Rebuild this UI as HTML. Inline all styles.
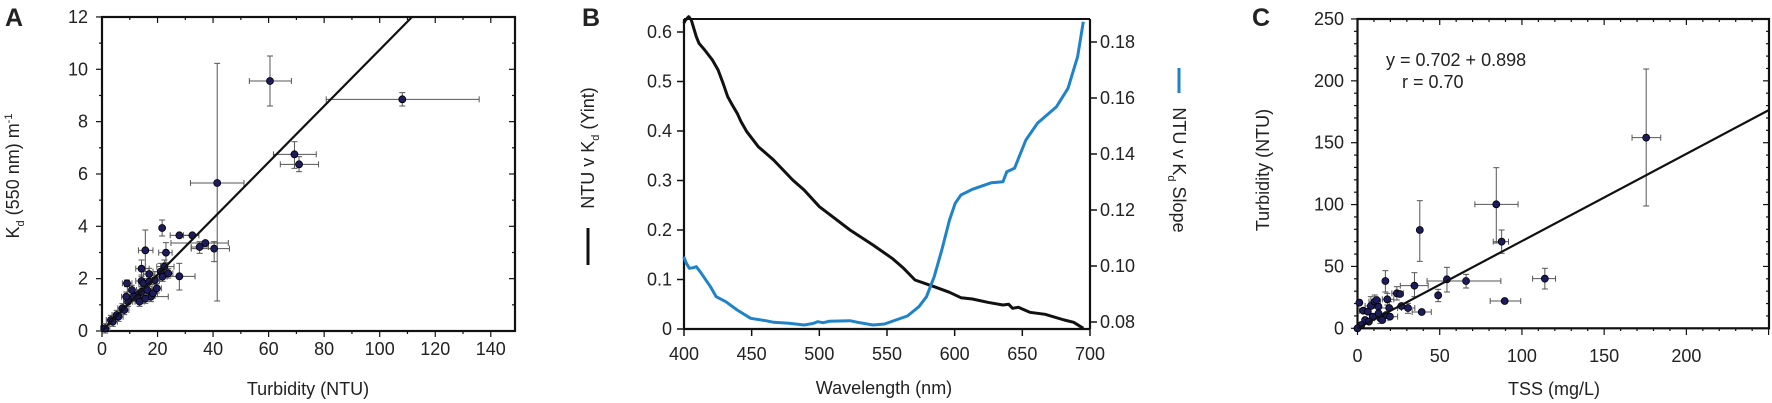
<!DOCTYPE html>
<html><head><meta charset="utf-8"><style>
html,body{margin:0;padding:0;background:#fff;width:1772px;height:403px;overflow:hidden}
svg{display:block}
text{font-family:"Liberation Sans",Arial,sans-serif;fill:#222}
</style></head><body>
<svg id="s" width="1772" height="403" viewBox="0 0 1772 403" xmlns="http://www.w3.org/2000/svg">
<text x="5" y="26" font-size="25" font-weight="bold">A</text>
<text x="582" y="26" font-size="25" font-weight="bold">B</text>
<text x="1252" y="26" font-size="25" font-weight="bold">C</text>
<text x="308" y="395" font-size="18" text-anchor="middle">Turbidity (NTU)</text>
<text transform="translate(19,176) rotate(-90)" font-size="18" text-anchor="middle">K<tspan font-size="11" dy="5">d</tspan><tspan dy="-5"> (550 nm) m</tspan><tspan font-size="11" dy="-7">-1</tspan></text>
<text x="884" y="394" font-size="18" text-anchor="middle">Wavelength (nm)</text>
<text transform="translate(594,148) rotate(-90)" font-size="18" text-anchor="middle">NTU v K<tspan font-size="11" dy="5">d</tspan><tspan dy="-5"> (Yint)</tspan></text>
<line x1="588" y1="228" x2="588" y2="265" stroke="#111" stroke-width="3"/>
<text transform="translate(1173,170) rotate(90)" font-size="18" text-anchor="middle">NTU v K<tspan font-size="11" dy="5">d</tspan><tspan dy="-5"> Slope</tspan></text>
<line x1="1179" y1="68" x2="1179" y2="93" stroke="#1f83c9" stroke-width="3"/>
<text x="1554" y="395" font-size="18" text-anchor="middle">TSS (mg/L)</text>
<text transform="translate(1269,170) rotate(-90)" font-size="18" text-anchor="middle">Turbidity (NTU)</text>
<text x="1386" y="66" font-size="18">y = 0.702 + 0.898</text>
<text x="1402" y="88" font-size="18">r  = 0.70</text>
<g id="g"></g>
</svg>
<script>
var NS="http://www.w3.org/2000/svg",G=document.getElementById('g');
function E(t,a){var e=document.createElementNS(NS,t);for(var k in a)e.setAttribute(k,a[k]);G.appendChild(e);return e;}
function L(x1,y1,x2,y2,w,c){E('line',{x1:x1,y1:y1,x2:x2,y2:y2,stroke:c||'#111','stroke-width':w||1});}
function T(x,y,s,anc){var e=E('text',{x:x,y:y,'font-size':18,'text-anchor':anc||'middle'});e.textContent=s;}
var K=2.615;
function Zx(o,zx){return o+zx/K;} function Zy(zy){return zy/3;}
// ---------- Panel A ----------
var ax=function(v){return 102+2.777*v}, ay=function(v){return 331-26.17*v};
for(var v=0;v<=150;v+=10){var x=ax(v);var maj=v%20==0;
 if(v<=140){L(x,331,x,maj?337:334,1.2);L(x,17,x,maj?23:20,1.2);}
 if(maj&&v<=140)T(x,355,String(v));}
for(var v=0;v<=12;v+=1){var y=ay(v);var maj=v%2==0;
 L(maj?96:99,y,102,y,1.2);L(515,y,maj?509:512,y,1.2);
 if(maj)T(88,y+6,String(v),'end');}
E('rect',{x:102,y:17,width:413,height:314,fill:'none',stroke:'#111','stroke-width':2.2});
function scat(o,pts,r){pts.forEach(function(p){var X=Zx(o,p[0]),Y=Zy(p[1]);
 if(p[2]!=null){var a=Zx(o,p[2]),b=Zx(o,p[3]);L(a,Y,b,Y,1,'#555');L(a,Y-3,a,Y+3,1,'#555');L(b,Y-3,b,Y+3,1,'#555');}
 if(p[4]!=null){var a=Zy(p[4]),b=Zy(p[5]);L(X,a,X,b,1,'#555');L(X-3,a,X+3,a,1,'#555');L(X-3,b,X+3,b,1,'#555');}});
 pts.forEach(function(p){E('circle',{cx:Zx(o,p[0]),cy:Zy(p[1]),r:r||3.4,fill:'#1c1c5c',stroke:'#000','stroke-width':0.8});});}
var A=[[706,243,652,762,168,318],[1052,298,853,1253,278,318],[568,549,498,638,190,903],[770,463,715,827,425,505],[782,493,733,833,470,515],
[424,684,null,null,660,708],[469,706,445,505,null,null],[503,706,480,520,null,null],[380,751,362,400,690,815],[434,758,415,450,728,788],
[522,741,500,545,725,760],[537,729,447,597,null,null],[560,746,500,600,725,785],[370,806,355,390,780,830],[390,822,375,405,805,840],
[469,829,430,510,790,870],[332,850,320,345,840,860],[370,843,355,385,825,860],[420,815,400,440,790,840],[430,800,410,455,780,820],[395,890,370,440,880,905],[360,885,345,375,870,900]];
var cl=[[275,985],[290,960],[305,945],[320,925],[335,905],[350,890],[360,895],[370,875],[385,870],[400,880],[410,865],[330,890],[345,870],[365,905],[380,896],[375,850],[390,845],[405,840],[425,830],[440,820],[310,950],[295,965],[325,930]];
cl.forEach(function(p){A.push([p[0],p[1],p[0]-12,p[0]+12,p[1]-14,p[1]+14]);});
scat(0,A,3.5);
L(102,331,412,17,2.2);
// ---------- Panel B ----------
var bx=function(w){return 684+(w-400)*1.3533};
for(var w=400;w<=700;w+=50){var x=bx(w);L(x,329,x,336,1.5);T(x,360,String(w));}
for(var i=0;i<=6;i++){var y=329-i*49.5;L(677,y,684,y,1.5);T(672,y+6,i==0?'0':(i/10).toFixed(1),'end');}
for(var i=0;i<=5;i++){var v=0.08+i*0.02,y=322-(v-0.08)*2800;L(1090,y,1097,y,1.5);T(1100,y+6,v.toFixed(2),'start');}
L(684,19,1090,19,2);L(684,19,684,329,2.2);L(1090,19,1090,329,2.2);L(684,329,1090,329,2.2);
function poly(o,pts,c,w){E('polyline',{points:pts.map(function(p){return Zx(o,p[0]).toFixed(1)+','+Zy(p[1]).toFixed(1)}).join(' '),fill:'none',stroke:c,'stroke-width':w,'stroke-linejoin':'round'});}
poly(590,[[245,70],[250,60],[258,50],[265,60],[270,80],[278,110],[285,130],[300,150],[320,180],[335,210],[348,250],[360,290],[372,315],[385,340],[395,365],[410,395],[440,440],[480,480],[530,540],[560,570],[600,620],[640,655],[680,690],[740,735],[790,775],[820,805],[850,840],[900,860],[940,877],[970,893],[1000,897],[1040,907],[1080,915],[1095,913],[1105,925],[1120,922],[1150,937],[1190,943],[1240,960],[1265,967],[1290,985]],'#111',3);
poly(590,[[245,770],[252,790],[260,805],[270,803],[278,800],[290,818],[300,835],[315,860],[330,890],[355,905],[385,930],[420,955],[460,962],[480,967],[520,970],[560,975],[585,970],[595,965],[610,968],[625,964],[680,962],[700,967],[740,975],[770,972],[800,960],[830,948],[860,920],[880,890],[900,830],[920,750],[940,660],[955,610],[970,585],[1000,568],[1050,548],[1080,545],[1090,515],[1110,505],[1140,420],[1170,370],[1220,320],[1250,265],[1275,170],[1290,65]],'#1f83c9',3);
// ---------- Panel C ----------
var cx=function(v){return 1357.5+1.6444*v}, cy=function(v){return 328.3-1.2373*v};
for(var v=0;v<=250;v+=10){var x=cx(v);if(x>1769)break;var maj=v%50==0;
 L(x,328.3,x,maj?335:331,1.2);L(x,19,x,maj?25:22,1.2);if(maj&&v<=200)T(x,362,String(v));}
for(var v=0;v<=250;v+=10){var y=cy(v);var maj=v%50==0;
 L(maj?1351:1354,y,1357.5,y,1.2);L(1769,y,maj?1763:1766,y,1.2);if(maj)T(1344,y+6,String(v),'end');}
E('rect',{x:1357.5,y:19,width:411.5,height:309.3,fill:'none',stroke:'#111','stroke-width':2.2});
var C=[[1240,413,1203,1278,207,618],[848,613,792,905,503,729],[862,725,840,880,690,760],[648,690,null,null,602,784],[975,836,943,1003,805,867],
[870,903,832,912,null,null],[769,843,667,860,823,864],[719,838,null,null,802,876],[696,886,null,null,868,905],[634,857,597,670,818,890],
[653,936,628,678,null,null],[558,843,null,null,812,876],[588,880,575,605,860,900],[596,882,null,null,null,null],[563,898,550,580,880,915],
[568,924,540,590,905,945],[617,924,600,635,910,940],[600,918,null,null,null,null],[490,908,null,null,null,null],[500,932,490,515,null,null],
[520,918,505,540,890,945],[530,905,515,545,885,925],[540,920,null,null,null,null],[512,935,null,null,null,null],[525,950,null,null,null,null],
[545,955,530,565,940,970],[560,945,null,null,null,null],[570,950,555,590,null,null],[535,900,null,null,null,null],[505,960,null,null,null,null],
[495,975,null,null,null,null],[485,985,null,null,null,null],[515,965,null,null,null,null],[540,940,null,null,null,null],[550,960,null,null,null,null]];
scat(1172,C,3.5);
L(1357.5,328.3,1769,110,2.2);
</script>
</body></html>
